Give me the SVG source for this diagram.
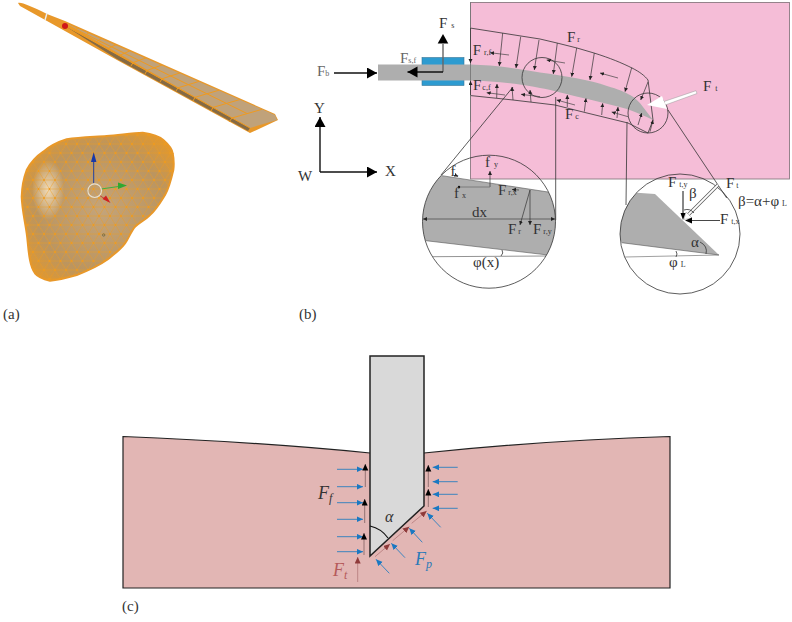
<svg xmlns="http://www.w3.org/2000/svg" width="792" height="622" viewBox="0 0 792 622">
<style>
text{font-family:"Liberation Serif","Times New Roman",serif;fill:#333}
.m{font-size:15px}.g{fill:#666}.s{font-size:8px}
.t{fill:none;stroke:#333;stroke-width:.8}
.a{fill:none;stroke:#333;stroke-width:.7;marker-end:url(#sm)}
.h{fill:none;stroke:#444;stroke-width:.7;marker-end:url(#sm)}
.k{fill:none;stroke:#111;stroke-width:1.4;marker-end:url(#big)}
.bl{fill:none;stroke:#2a7fc0;stroke-width:.9;marker-end:url(#blue)}
.rd{fill:none;stroke:#b98080;stroke-width:.9;marker-end:url(#red)}
.up{fill:none;stroke:#8a6a6a;stroke-width:.9;marker-end:url(#blk)}
.blade{fill:#aeaeae}
.mesh{fill:none;stroke:#f09a1e;stroke-width:1}
</style>
<defs>
<marker id="sm" markerUnits="userSpaceOnUse" markerWidth="6" markerHeight="6" refX="4" refY="2" orient="auto"><path d="M0 0L4 2L0 4Z" fill="#222"/></marker>
<marker id="big" markerUnits="userSpaceOnUse" markerWidth="12" markerHeight="12" refX="10" refY="5.5" orient="auto"><path d="M0 0L10 5.5L0 11Z" fill="#000"/></marker>
<marker id="blue" markerUnits="userSpaceOnUse" markerWidth="8" markerHeight="8" refX="6.5" refY="3" orient="auto"><path d="M0 0L6.5 3L0 6Z" fill="#1a78c2"/></marker>
<marker id="red" markerUnits="userSpaceOnUse" markerWidth="8" markerHeight="8" refX="6.5" refY="3" orient="auto"><path d="M0 0L6.5 3L0 6Z" fill="#8f3a3a"/></marker>
<marker id="blk" markerUnits="userSpaceOnUse" markerWidth="8" markerHeight="8" refX="6.5" refY="3" orient="auto"><path d="M0 0L6.5 3L0 6Z" fill="#000"/></marker>
<radialGradient id="liv" cx=".52" cy=".52" r=".62"><stop offset="0" stop-color="#c4a47a"/><stop offset=".68" stop-color="#bb9560"/><stop offset="1" stop-color="#e3982c"/></radialGradient>
<radialGradient id="hl"><stop offset="0" stop-color="#f6e2c0" stop-opacity=".9"/><stop offset="1" stop-color="#f6e2c0" stop-opacity="0"/></radialGradient>
<pattern id="tri" patternUnits="userSpaceOnUse" width="11" height="18"><path d="M0 0H11M0 9H11M0 18H11M0 0L5.5 9L11 0M0 18L5.5 9L11 18" fill="none" stroke="#ee9a20" stroke-width=".45"/><circle cx="5.5" cy="9" r=".9" fill="#f09a1c"/><circle cx="0" cy="0" r=".9" fill="#f09a1c"/><circle cx="11" cy="0" r=".9" fill="#f09a1c"/><circle cx="0" cy="18" r=".9" fill="#f09a1c"/><circle cx="11" cy="18" r=".9" fill="#f09a1c"/></pattern>
<clipPath id="liverClip"><path d="M142.7 132.7C152 134 160 137 163.3 140C169 145 172 149 172.7 153.3C174 160 174 165 173.3 170C171 180 169 188 165 195C160 203 156 210 150 215C145 220 139 223 135 226.7C131 231 129 238 125 243.3C120 250 113 255 106.7 260C97 267 87 271 76.7 275C66 278 58 280 50 280.7C43 279 38 277 35 273.3C32 269 31 265 30 260C28 250 28 242 26.7 233.3C25 221 22 209 21.7 196.7C22 186 24 177 26.7 170C31 162 37 156 43.3 151.7C50 146 58 142 66.7 139.3C80 137 94 137 106.7 136C120 135 132 133 142.7 132.7Z"/></clipPath>
<clipPath id="cl"><circle cx="489" cy="221.7" r="66.5"/></clipPath>
<clipPath id="cr"><circle cx="680" cy="234" r="60"/></clipPath>
</defs>

<g id="blade3d">
<path d="M18 3C22 2 30 6 47 14L65 21L275 114L278 120L250 133L230 122L117 60L47 21L20 6Z" fill="#e8982a"/>
<path d="M65 23L275 115L277 120L250 128L232 118Z" fill="#c0a27a"/>
<path d="M62 24L232 118L250 128L248 131L230 121L117 59Z" fill="#856a44"/>
<path class="mesh" d="M232 118L262 109.3M213 107.4L240 99.5M195 97.3L219 90.2M178 87.8L199 81.4M162 78.8L180 72.9M147 70.4L162 65M133 62.6L146 57.9M120 55.3L130 50.8M108 48.6L116 44.6M96 41.8L102 38.4M85 35.6L89 32.6M75 30L78 27.8M65 24L247 113.5M232 118L229 122M213 107.4L211 111M195 97.3L193 101M178 87.8L176 91M162 78.8L160 82M147 70.4L145 74M133 62.6L131 66M232 118L250 128M62 24L232 118"/>
<path d="M47 13L45 20" stroke="#eee" stroke-width="1.4" fill="none"/>
<circle cx="65" cy="26" r="3" fill="#d01818"/>
</g>

<g id="liver">
<path d="M142.7 132.7C152 134 160 137 163.3 140C169 145 172 149 172.7 153.3C174 160 174 165 173.3 170C171 180 169 188 165 195C160 203 156 210 150 215C145 220 139 223 135 226.7C131 231 129 238 125 243.3C120 250 113 255 106.7 260C97 267 87 271 76.7 275C66 278 58 280 50 280.7C43 279 38 277 35 273.3C32 269 31 265 30 260C28 250 28 242 26.7 233.3C25 221 22 209 21.7 196.7C22 186 24 177 26.7 170C31 162 37 156 43.3 151.7C50 146 58 142 66.7 139.3C80 137 94 137 106.7 136C120 135 132 133 142.7 132.7Z" fill="url(#liv)" stroke="#e8982a" stroke-width="2"/>
<g clip-path="url(#liverClip)"><ellipse cx="48" cy="190" rx="16" ry="30" fill="url(#hl)"/><rect x="15" y="125" width="165" height="160" fill="url(#tri)"/></g>
<path d="M93.7 183V156" stroke="#2040a0" stroke-width="1"/><path d="M93.7 152L91 162H96.4Z" fill="#1838a8"/>
<path d="M101 189L122 186" stroke="#40b040" stroke-width="1"/><path d="M127 185.5L118 182.5V189Z" fill="#30a830"/>
<path d="M99 195L108 201" stroke="#c04040" stroke-width="1"/><path d="M110.5 203L102.5 199L106 195.5Z" fill="#d02020"/>
<circle cx="94.7" cy="190.7" r="6.8" fill="none" stroke="#e6e0d0" stroke-width="1.1"/>
<circle cx="103.7" cy="235" r="1.2" fill="none" stroke="#553" stroke-width=".6"/>
</g>

<g id="panelB">
<rect x="470.5" y="2.5" width="319" height="176.5" fill="#f5bdd7" stroke="#8a7a82" stroke-width=".9"/>
<rect x="422" y="57.5" width="42" height="28" fill="#2d9bd0" stroke="#3a7596" stroke-width=".6"/>
<path class="blade" d="M378 64.5H470C495 65 520 69 540 72.5C565 76 590 80 607 86C618 89 625 92 630 95C636 98 640 103 643 107L653 120C645 116 636 112 627 109C612 105 597 101 583 98C565 94 552 90 540 88C520 84 495 81 470 80.5H378Z"/>
<path class="t" d="M470 28L540 39L557 43L577 48L594 53C610 58 622 63 632 68C640 72 645 76 648 80L653 120L648 133L628 123L587 113L555 105L513 100L470 95.5"/>
<circle class="t" cx="542" cy="77.5" r="20"/>
<circle class="t" cx="648" cy="113" r="20"/>
<path d="M470.5 2.5V122" stroke="#777" stroke-width=".9" fill="none"/>
<path d="M513 87L441 175M555.7 97V220M627 122L626 205M668 110L726.7 198" class="t"/>
</g>

<g id="connectors">
<path class="a" d="M502.7 33L499.3 66"/><path class="a" d="M520.7 36.7L516 68"/><path class="a" d="M539 40L534.3 70"/><path class="a" d="M557.3 43L553.3 74"/><path class="a" d="M576.7 48L571.7 76.7"/><path class="a" d="M594.3 53L590 80"/><path class="a" d="M631.7 67.7L625 91.7"/><path class="a" d="M648 82L640.7 100"/>
<path class="a" d="M496.7 98L497 84"/><path class="a" d="M513 100L512 87"/><path class="a" d="M531 102L530 90"/><path class="a" d="M567.3 107L567.3 95"/><path class="a" d="M584.3 111.7L586 98.3"/><path class="a" d="M601.7 115L602.7 103.3"/><path class="a" d="M617 118L618 107"/><path class="a" d="M638 125L641.7 113"/><path class="a" d="M650 131.7L653 120"/>
<path class="h" d="M509 55L490 52.7"/><path class="h" d="M505 95L486.7 92.7"/><path class="h" d="M540 96.7L521 94.3"/><path class="h" d="M565 63L546.7 60"/><path class="h" d="M575 105L556.7 100"/><path class="h" d="M628 116.7L611.7 112"/><path class="h" d="M618 78L600 73"/>
<path class="a" d="M470.5 28V63"/><path class="a" d="M470.5 95V81"/>
<path class="k" d="M334 73H377"/>
<path d="M443 72V44" stroke="#666" stroke-width="1.4" fill="none"/><path d="M443 34L437.7 43.5H448.3Z" fill="#000"/>
<path class="k" d="M443 72H407.5"/>
<path class="k" d="M320 172V117"/>
<path class="k" d="M320 172H377"/>
<path d="M696 90.7L664 101.5L665.3 105L697 93.5Z" fill="#fff" stroke="#999" stroke-width=".5"/>
<path d="M647 105L662 96L667 109Z" fill="#fff"/>
</g>

<g id="detailLeft">
<g clip-path="url(#cl)">
<path class="blade" d="M420 172.3L442 175.7L548 192L570 195.4V257.7L548 255L426 240.7L415 239.4Z"/>
<path d="M433 256.7L548 256" stroke="#777" stroke-width=".8"/>
<path d="M442 175.7L548 192M426 240.7L548 255" stroke="#555" stroke-width=".6" fill="none"/>
<path d="M502 250Q504 253 501 256" class="t"/>
</g>
<circle class="t" cx="489" cy="221.7" r="66.5"/>
<path class="h" d="M489 219H555"/><path class="h" d="M489 219H423"/>
<path class="a" d="M490 187V171"/>
<path d="M490 187H460" stroke="#777" stroke-width=".9" fill="none"/><circle cx="459" cy="187" r="1.2" fill="#111"/>
<path class="a" d="M530 190L520 225"/><path class="a" d="M530 190V225"/><path class="a" d="M519 190L512 189.5"/>
<path class="a" d="M455 175L458 176.5"/>
</g>

<g id="detailRight">
<g clip-path="url(#cr)">
<path class="blade" d="M637 192.7L655 194L719 255L621.7 242.7L615 230L625 205Z"/>
<path d="M625 257L719 255" stroke="#888" stroke-width=".8"/>
<path d="M621.7 242.7L719 255" stroke="#555" stroke-width=".6"/>
<path d="M676 251Q678 254 676 257" class="t"/>
</g>
<circle class="t" cx="680" cy="234" r="60"/>
<path d="M718 185L688 215" stroke="#555" stroke-width="3.2" fill="none"/>
<path d="M718 185L688 215" stroke="#fff" stroke-width="1.8" fill="none"/>
<path d="M684 219.5L686 212L692 218Z" fill="#fff" stroke="#888" stroke-width=".4"/>
<path d="M683 191V216" stroke="#111" stroke-width="1" fill="none"/><path d="M683 220L680.5 213H685.5Z" fill="#000"/>
<path d="M720 220.5H690" stroke="#333" stroke-width=".9" fill="none"/><path d="M685 220.5L692 217.5V223.5Z" fill="#000"/>
<path d="M684 210Q690 208 694 213" class="t"/>
<path d="M700 242Q708 246 706 254" class="t"/>
</g>

<g id="labelsB">
<text class="m" x="439" y="28">F<tspan class="s" dx="4">s</tspan></text>
<text class="m g" x="317" y="76">F<tspan class="s">b</tspan></text>
<text class="m g" x="400" y="63">F<tspan class="s">s,f</tspan></text>
<text class="m" x="314" y="113">Y</text>
<text class="m" x="385" y="176">X</text>
<text class="m" x="298" y="181">W</text>
<text class="m" x="472.7" y="55">F<tspan class="s" dx="3">r,f</tspan></text>
<text class="m" x="473" y="90">F<tspan class="s" dx="1">c,f</tspan></text>
<text class="m" x="567" y="42">F<tspan class="s" dx="2">r</tspan></text>
<text class="m" x="565" y="119">F<tspan class="s" dx="2">c</tspan></text>
<text class="m" x="703" y="91">F<tspan class="s" dx="4">t</tspan></text>
<text class="m" x="450.5" y="176">f<tspan class="s" dx="1">,</tspan></text>
<text class="m" x="485" y="167">f<tspan class="s" dx="4">y</tspan></text>
<text class="m" x="454" y="198">f<tspan class="s" dx="3">x</tspan></text>
<text class="m" x="498" y="195">F<tspan class="s" dx="2">r,x</tspan></text>
<text class="m" x="472" y="217">dx</text>
<text class="m" x="508" y="234">F<tspan class="s" dx="2">r</tspan></text>
<text class="m" x="533" y="234">F<tspan class="s" dx="2">r,y</tspan></text>
<text class="m" x="473" y="267">φ(x)</text>
<text class="m" x="668" y="187">F<tspan class="s" dx="3">t,y</tspan></text>
<text class="m" x="689" y="198">β</text>
<text class="m" x="726" y="188">F<tspan class="s" dx="2">t</tspan></text>
<text class="m" x="738" y="206">β=α+φ<tspan class="s" dx="3">L</tspan></text>
<text class="m" x="720" y="224">F<tspan class="s" dx="3">t,x</tspan></text>
<text class="m" x="691" y="247">α</text>
<text class="m" x="669" y="267">φ<tspan class="s" dx="3">L</tspan></text>
<text class="m" x="3" y="319">(a)</text>
<text class="m" x="299" y="319">(b)</text>
<text class="m" x="122" y="611">(c)</text>
</g>

<g id="panelC">
<path d="M123 436.5C210 440 300 446 370 453H424C500 445 590 439 670 436.5V588H123Z" fill="#e2b6b4" stroke="#222" stroke-width="1.2"/>
<path d="M370 356H424V506L370 556Z" fill="#d9d9d9" stroke="#222" stroke-width="1.5"/>
<path d="M370 526A30 30 0 0 1 388 538" fill="none" stroke="#111" stroke-width="1.2"/>
</g>
<g id="connectorsC">
<path class="bl" d="M337 469.3H363"/><path class="bl" d="M337 486.7H363"/><path class="bl" d="M337 502.7H363"/><path class="bl" d="M337 519.3H363"/><path class="bl" d="M337 536.7H363"/><path class="bl" d="M337 551.7H363"/>
<path class="bl" d="M457.7 467.3H432.7"/><path class="bl" d="M457.7 481.7H432.7"/><path class="bl" d="M457.7 494.3H432.7"/><path class="bl" d="M457.7 508.3H432.7"/>
<path class="bl" d="M440.7 527.3L427.3 513.3"/><path class="bl" d="M422.3 542.3L409.3 528.3"/><path class="bl" d="M405 557.7L391.3 543.3"/><path class="bl" d="M389.3 573.3L376 559.3"/>
<path class="up" d="M365.3 487V464"/><path class="up" d="M364.7 523V499"/><path class="up" d="M364 555V533"/><path class="up" d="M428.3 487V465"/><path class="up" d="M428.3 507V489"/>
<path class="rd" d="M411.7 523.3L426.7 511"/><path class="rd" d="M392.7 540.7L409.3 526.7"/><path class="rd" d="M375 556.7L390 544"/><path class="rd" d="M357.7 582V557"/>
</g>
<g id="labelsC">
<text x="318" y="499" font-size="18" font-style="italic">F<tspan font-size="12" dy="3">f</tspan></text>
<text x="385" y="522" font-size="16" font-style="italic">α</text>
<text x="415" y="565" font-size="18" font-style="italic" style="fill:#2a7ab8">F<tspan font-size="12" dy="3">p</tspan></text>
<text x="333" y="576" font-size="18" font-style="italic" style="fill:#b55a5a">F<tspan font-size="12" dy="3">t</tspan></text>
</g>
</svg>
